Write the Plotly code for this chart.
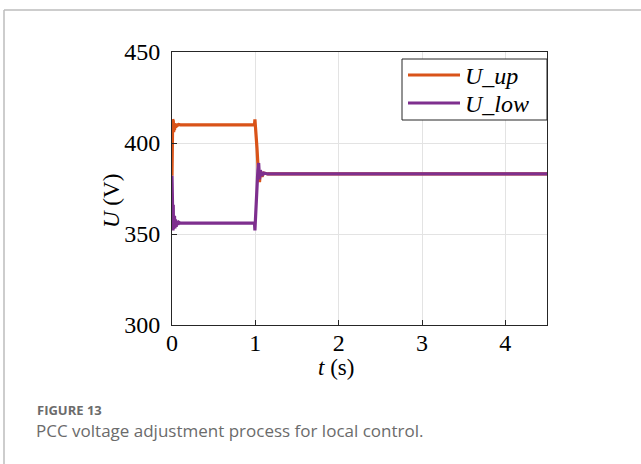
import plotly.graph_objects as go

# ---- data ----
t_up = [0.0, 0.004, 0.008, 0.012, 0.016, 0.02, 0.025, 0.03, 0.035, 0.04, 0.05, 0.06, 0.08,
        0.1, 0.5, 0.99, 0.995, 1.0, 1.005, 1.01, 1.02, 1.03, 1.04, 1.05, 1.06, 1.08, 1.1,
        1.15, 2.0, 3.0, 4.5]
u_up = [382, 400, 413, 405, 412, 406, 411, 407, 410.5, 408.5, 410.5, 409.5, 410.2,
        410, 410, 410, 413, 408, 412, 404, 397, 389, 381, 378.5, 384, 381.5, 383.5,
        383, 383, 383, 383]

t_low = [0.0, 0.003, 0.006, 0.009, 0.012, 0.015, 0.018, 0.022, 0.026, 0.03, 0.035, 0.04,
         0.05, 0.06, 0.07, 0.08, 0.1, 0.5, 0.99, 0.995, 1.0, 1.005, 1.01, 1.02, 1.03,
         1.04, 1.05, 1.06, 1.08, 1.1, 1.15, 2.0, 3.0, 4.5]
u_low = [382, 362, 354, 372, 352, 366, 353, 362, 354, 360, 353, 358,
         354, 357, 355, 356.5, 356, 356, 356, 352, 358, 353, 362, 372, 385,
         389, 380, 385, 382, 383.5, 383, 383, 383, 383]

series_names = ["U_up", "U_low"]
series_colors = ["#D95319", "#7E2F8E"]

x_ticks = [0, 1, 2, 3, 4]
y_ticks = [300, 350, 400, 450]

caption_head = "FIGURE 13"
caption_text = "PCC voltage adjustment process for local control."

# ---- layout geometry (pixels) ----
W, H = 641, 464
L, R, T, B = 172, 547, 52, 325


def xp(px):
    return (px - L) / (R - L)


def yp(py):
    return (B - py) / (B - T)


fig = go.Figure()
for t, u, name, col in [(t_up, u_up, series_names[0], series_colors[0]),
                        (t_low, u_low, series_names[1], series_colors[1])]:
    fig.add_trace(go.Scatter(x=t, y=u, mode="lines", name=name,
                             line=dict(color=col, width=3.2), showlegend=False))

serif = "Liberation Serif"
tick_font = dict(family=serif, size=24, color="black")

# legend box drawn by hand (position in pixels)
leg_box = (402, 59, 547, 120)
leg_rows = [75, 103]
leg_line = (408, 460)
leg_text_x = 463

shapes = [
    dict(type="line", xref="paper", yref="paper", x0=xp(4), x1=xp(W + 5),
         y0=yp(10), y1=yp(10), line=dict(color="#bdbdbd", width=1.5)),
    dict(type="line", xref="paper", yref="paper", x0=xp(4), x1=xp(4),
         y0=yp(10), y1=yp(H + 5), line=dict(color="#bdbdbd", width=1.5)),
    dict(type="rect", xref="paper", yref="paper", x0=xp(leg_box[0]), x1=xp(leg_box[2]),
         y0=yp(leg_box[1]), y1=yp(leg_box[3]), fillcolor="white",
         line=dict(color="#262626", width=1), layer="above"),
]
annotations = []
for row, name, col in zip(leg_rows, series_names, series_colors):
    shapes.append(dict(type="line", xref="paper", yref="paper",
                       x0=xp(leg_line[0]), x1=xp(leg_line[1]), y0=yp(row), y1=yp(row),
                       line=dict(color=col, width=3), layer="above"))
    annotations.append(dict(text="<i>" + name + "</i>", xref="paper", yref="paper",
                            x=xp(leg_text_x), y=yp(row + 1), xanchor="left",
                            yanchor="middle", showarrow=False,
                            font=dict(family=serif, size=24, color="black")))

annotations += [
    dict(text="<i>t</i> (s)", xref="paper", yref="paper", x=xp(336), y=yp(368),
         xanchor="center", yanchor="middle", showarrow=False,
         font=dict(family=serif, size=23, color="black")),
    dict(text="<i>U</i> (V)", xref="paper", yref="paper", x=xp(111), y=yp(201),
         xanchor="center", yanchor="middle", showarrow=False, textangle=-90,
         font=dict(family=serif, size=23, color="black")),
    dict(text="<b>" + caption_head + "</b>", xref="paper", yref="paper",
         x=xp(35), y=yp(410), xanchor="left", yanchor="middle", showarrow=False,
         font=dict(family="Open Sans", size=13, color="#6b6b6b")),
    dict(text=caption_text, xref="paper", yref="paper",
         x=xp(34), y=yp(430), xanchor="left", yanchor="middle", showarrow=False,
         font=dict(family="Open Sans", size=17, color="#6b6b6b")),
]

fig.update_layout(
    width=W, height=H,
    margin=dict(l=L, r=W - R, t=T, b=H - B, pad=0),
    paper_bgcolor="white", plot_bgcolor="white",
    font=dict(family=serif, size=22, color="black"),
    showlegend=False,
    xaxis=dict(range=[0, 4.5], tickvals=x_ticks, ticks="inside", ticklen=5,
               tickcolor="#262626", showline=True, linecolor="#262626", linewidth=1,
               mirror=True, showgrid=True, gridcolor="#e3e3e3", gridwidth=1,
               zeroline=False, ticklabelstandoff=-4, tickfont=tick_font),
    yaxis=dict(range=[300, 450], tickvals=y_ticks, ticks="inside", ticklen=5,
               tickcolor="#262626", showline=True, linecolor="#262626", linewidth=1,
               mirror=True, showgrid=True, gridcolor="#e3e3e3", gridwidth=1,
               zeroline=False, ticklabelstandoff=6, tickfont=tick_font),
    shapes=shapes,
    annotations=annotations,
)

fig.write_html("out.html", config={"displayModeBar": False},
               post_script="document.body.style.margin='0';document.body.style.overflow='hidden';")
